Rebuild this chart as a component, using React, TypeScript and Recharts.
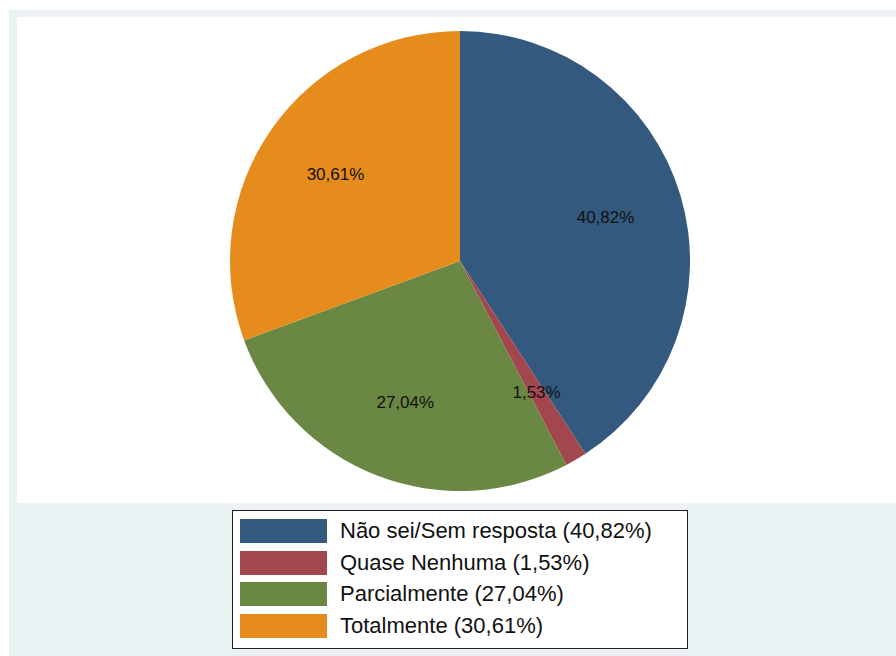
import { PieChart, Pie, Cell, Legend } from "recharts"

// categories and shares (%) in the order drawn, clockwise from 12 o'clock
const categories = ["Não sei/Sem resposta", "Quase Nenhuma", "Parcialmente", "Totalmente"]
const shares = [40.82, 1.53, 27.04, 30.61]
const colors = ["#34597E", "#A3474F", "#6A8744", "#E68C1C"]

const fmt = (v: number) => v.toFixed(2).replace(".", ",") + "%"

const data = categories.map((name, i) => ({ name, value: shares[i] }))

const RADIAN = Math.PI / 180

// Stata style: label sits at 2/3 of the radius, centred on the slice
const renderLabel = (props: any) => {
  const { cx, cy, midAngle, outerRadius, value } = props
  const r = outerRadius * 0.66
  const x = cx + r * Math.cos(-midAngle * RADIAN)
  const y = cy + r * Math.sin(-midAngle * RADIAN)
  return (
    <text
      x={x}
      y={y}
      fill="#111"
      fontSize={17}
      fontFamily="Liberation Sans, Arial, sans-serif"
      textAnchor="middle"
      dominantBaseline="central"
    >
      {fmt(value)}
    </text>
  )
}

const LegendBox = () => (
  <div
    style={{
      width: 456,
      height: 139,
      boxSizing: "border-box",
      border: "1px solid #222",
      background: "#fff",
      padding: "4px 0 0 7px",
      fontFamily: "Liberation Sans, Arial, sans-serif",
      fontSize: 22,
      color: "#111",
    }}
  >
    {categories.map((name, i) => (
      <div key={name} style={{ display: "flex", alignItems: "center", height: 31.7 }}>
        <div style={{ width: 87, height: 24, background: colors[i], marginRight: 13 }} />
        <span>
          {name} ({fmt(shares[i])})
        </span>
      </div>
    ))}
  </div>
)

export default function App() {
  return (
    <div style={{ position: "fixed", left: 0, top: 0, width: 896, height: 656, background: "#fff", overflow: "hidden" }}>
      <div style={{ position: "absolute", left: 9, top: 10, width: 887, height: 646, background: "#EAF2F3" }} />
      <div style={{ position: "absolute", left: 17, top: 17, width: 879, height: 486, background: "#fff" }} />
      <div style={{ position: "absolute", left: 0, top: 0 }}>
        <PieChart width={896} height={656} margin={{ top: 0, right: 0, bottom: 0, left: 0 }}>
          <Pie
            data={data}
            dataKey="value"
            nameKey="name"
            cx={460}
            cy={261}
            outerRadius={230}
            startAngle={90}
            endAngle={-270}
            stroke="none"
            label={renderLabel}
            labelLine={false}
            isAnimationActive={false}
          >
            {data.map((d, i) => (
              <Cell key={d.name} fill={colors[i]} />
            ))}
          </Pie>
          <Legend
            content={() => <LegendBox />}
            wrapperStyle={{ position: "absolute", left: 232, top: 510, width: 456 }}
          />
        </PieChart>
      </div>
    </div>
  )
}
